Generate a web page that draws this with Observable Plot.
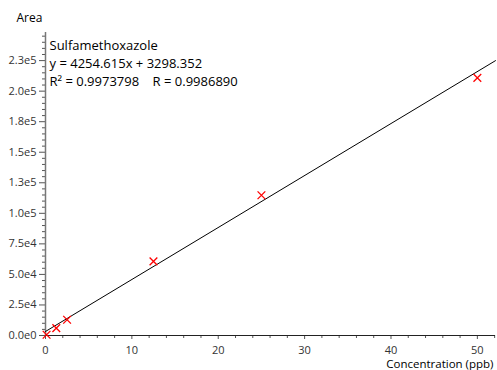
<!DOCTYPE html>
<html><head><meta charset="utf-8">
<script src="https://cdn.jsdelivr.net/npm/d3@7"></script>
<script src="https://cdn.jsdelivr.net/npm/@observablehq/plot@0.6"></script>
<style>body{margin:0;background:#fff} svg{display:block}</style>
</head><body><div id="chart"></div>
<script>
// data
const concentration = [0.125, 1.25, 2.5, 12.5, 25, 50];
const area = [600, 6000, 12900, 60700, 114800, 210900];
const compoundName = "Sulfamethoxazole";
const fitSlope = 4254.615;
const fitIntercept = 3298.352;
const r2Text = "0.9973798";
const rText = "0.9986890";
const xDomain = [0, 52.1];
const yDomain = [0, 248000];
const xMajorTicks = [0, 10, 20, 30, 40, 50];
const xTickLabels = ["0", "10", "20", "30", "40", "50"];
const xMinorTicks = [2,4,6,8,12,14,16,18,22,24,26,28,32,34,36,38,42,44,46,48,52];
const yMajorTicks = [0, 25000, 50000, 75000, 100000, 125000, 150000, 175000, 200000, 225000];
const yTickLabels = ["0.0e0","2.5e4","5.0e4","7.5e4","1.0e5","1.3e5","1.5e5","1.8e5","2.0e5","2.3e5"];
const yMinorTicks = d3.range(0, 245001, 5000).filter(v => v % 25000 !== 0);
const xTitle = "Concentration (ppb)";
const yTitle = "Area";

const points = concentration.map((c, i) => ({c, a: area[i]}));
const fitLine = xDomain.map(c => ({c, a: fitSlope * c + fitIntercept}));
const annotation = `${compoundName}\ny = ${fitSlope.toFixed(3)}x + ${fitIntercept.toFixed(3)}\nR² = ${r2Text}\u00a0\u00a0\u00a0\u00a0R = ${rText}`;

const chart = Plot.plot({
  width: 497,
  height: 370,
  marginLeft: 45,
  marginRight: 2,
  marginTop: 32,
  marginBottom: 35,
  style: {fontFamily: "'Open Sans', sans-serif", background: "#fff", color: "#333", overflow: "visible"},
  x: {domain: xDomain},
  y: {domain: yDomain},
  marks: [
    Plot.axisY({ticks: yMajorTicks, tickFormat: d => yTickLabels[yMajorTicks.indexOf(d)], tickSize: 6, tickPadding: 3, fontSize: 11, label: null, stroke: "#555"}),
    Plot.axisY({ticks: yMinorTicks, tickSize: 3, text: null, label: null, stroke: "#555"}),
    Plot.axisX({ticks: xMajorTicks, tickFormat: d => xTickLabels[xMajorTicks.indexOf(d)], tickSize: 4, tickPadding: 6.5, fontSize: 11, label: null, stroke: "#555"}),
    Plot.axisX({ticks: xMinorTicks, tickSize: 3, text: null, label: null, stroke: "#555"}),
    Plot.ruleX([0], {y1: yDomain[0], y2: yDomain[1], stroke: "#777", strokeWidth: 1.5}),
    Plot.ruleY([0], {x1: xDomain[0], x2: xDomain[1], stroke: "#222", strokeWidth: 1}),
    Plot.line(fitLine, {x: "c", y: "a", stroke: "#000", strokeWidth: 1}),
    Plot.dot(points, {x: "c", y: "a", symbol: "times", r: 3.6, stroke: "#ff0000", strokeWidth: 1.3}),
    Plot.text([annotation], {frameAnchor: "top-left", dx: 4, dy: 4.8, lineAnchor: "top", textAnchor: "start", fontSize: 13, lineHeight: 1.385, fill: "#000"}),
    Plot.text([yTitle], {frameAnchor: "top-left", dx: -29, dy: -14, lineAnchor: "middle", textAnchor: "start", fontSize: 12, fill: "#000"}),
    Plot.text([xTitle], {frameAnchor: "bottom-right", dx: -2, dy: 28.8, lineAnchor: "middle", textAnchor: "end", fontSize: 11.5, fill: "#000"})
  ]
});
document.getElementById("chart").append(chart);
</script>
</body></html>
